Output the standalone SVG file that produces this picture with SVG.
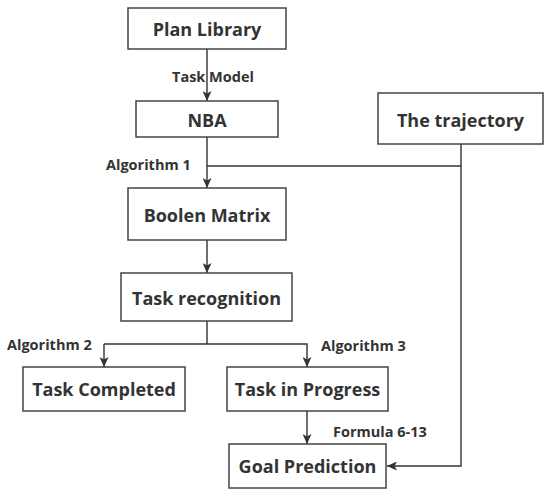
<svg xmlns="http://www.w3.org/2000/svg" width="550" height="497" viewBox="0 0 550 497">
<defs>
<marker id="arr" markerUnits="userSpaceOnUse" markerWidth="10" markerHeight="9" refX="10" refY="4.5" orient="auto">
<path d="M0,0 L10,4.5 L0,9 L2.5,4.5 z" fill="#333"/>
</marker>
<style>
.box{fill:#fff;stroke:#444;stroke-width:1.5}
.t{font-family:"Open Sans","Noto Sans","DejaVu Sans",sans-serif;font-weight:bold;font-size:18px;fill:#333;text-anchor:middle}
.l{font-family:"Open Sans","Noto Sans","DejaVu Sans",sans-serif;font-weight:bold;font-size:14.5px;fill:#333}
.c{fill:none;stroke:#333;stroke-width:1.4}
</style>
</defs>
<rect width="550" height="497" fill="#fff"/>
<g id="connectors">
<path class="c" d="M207,49 V101" marker-end="url(#arr)"/>
<path class="c" d="M207,137 V188" marker-end="url(#arr)"/>
<path class="c" d="M207,166 H461"/>
<path class="c" d="M461,144 V466 H387" marker-end="url(#arr)"/>
<path class="c" d="M207,240 V273" marker-end="url(#arr)"/>
<path class="c" d="M207,321 V344"/>
<path class="c" d="M104,344 H307 V367" marker-end="url(#arr)"/>
<path class="c" d="M104,344 V367" marker-end="url(#arr)"/>
<path class="c" d="M307,411 V444" marker-end="url(#arr)"/>
<text class="l" x="172" y="82">Task Model</text>
<text class="l" x="106" y="170">Algorithm 1</text>
<text class="l" x="7" y="350">Algorithm 2</text>
<text class="l" x="321" y="351">Algorithm 3</text>
<text class="l" x="333" y="437">Formula 6-13</text>
</g>
<g id="plan-library"><rect class="box" x="128" y="8" width="158" height="41"/><text class="t" x="207" y="36">Plan Library</text></g>
<g id="nba"><rect class="box" x="136" y="101" width="142" height="36"/><text class="t" x="207" y="127">NBA</text></g>
<g id="trajectory"><rect class="box" x="378" y="93" width="165" height="51"/><text class="t" x="460.5" y="127">The trajectory</text></g>
<g id="boolen-matrix"><rect class="box" x="128" y="188" width="158" height="52"/><text class="t" x="207" y="222">Boolen Matrix</text></g>
<g id="task-recognition"><rect class="box" x="121" y="273" width="171" height="48"/><text class="t" x="206.5" y="305">Task recognition</text></g>
<g id="task-completed"><rect class="box" x="23" y="367" width="162" height="44"/><text class="t" x="104" y="396">Task Completed</text></g>
<g id="task-in-progress"><rect class="box" x="227" y="367" width="161" height="44"/><text class="t" x="307.5" y="396">Task in Progress</text></g>
<g id="goal-prediction"><rect class="box" x="229" y="444" width="157" height="44"/><text class="t" x="307.5" y="473">Goal Prediction</text></g>
</svg>
